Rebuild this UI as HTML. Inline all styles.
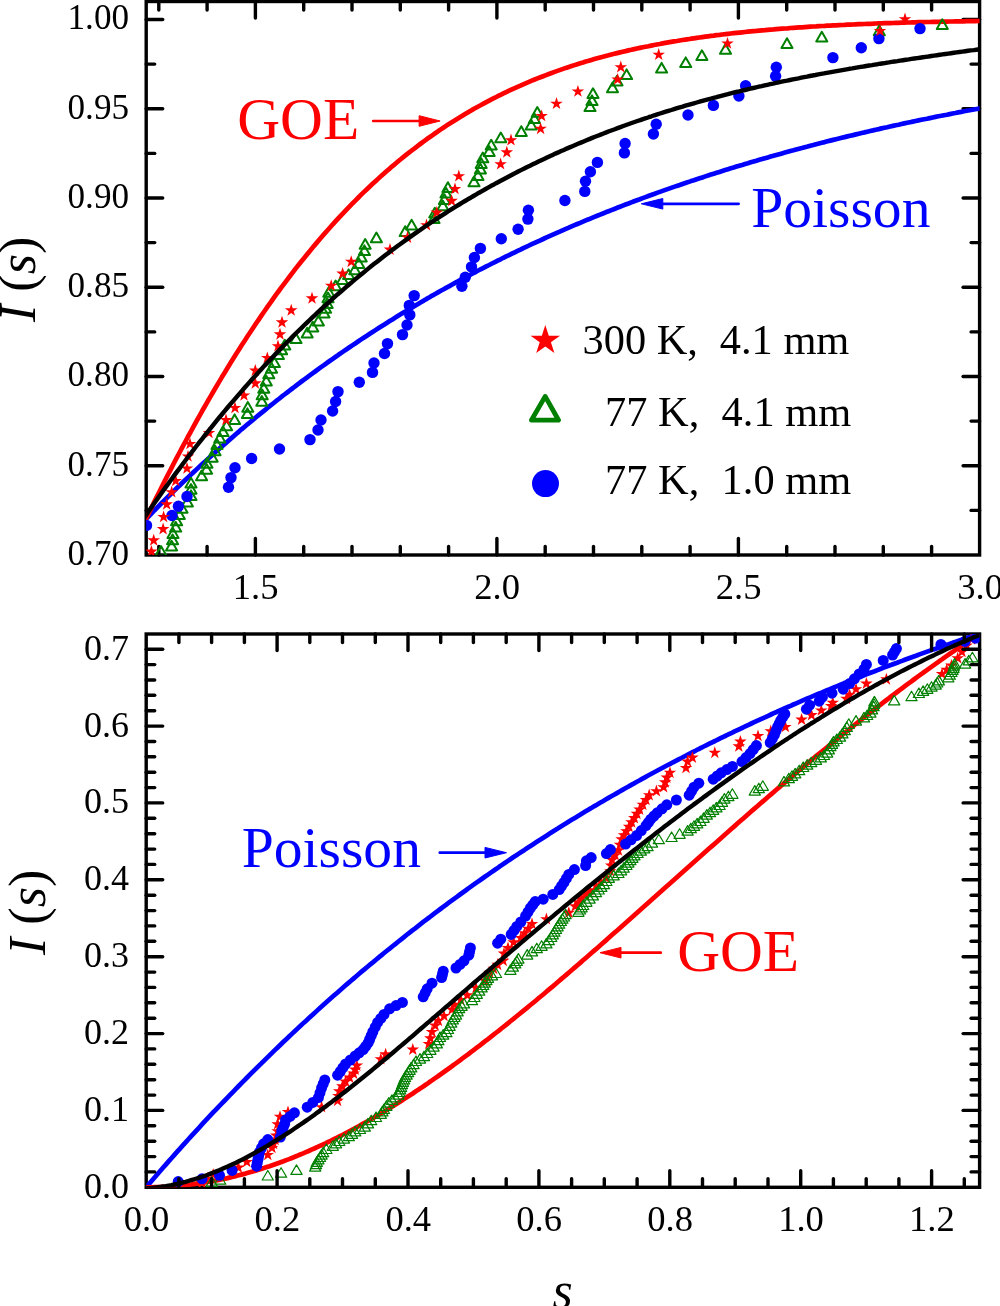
<!DOCTYPE html><html><head><meta charset="utf-8"><style>html,body{margin:0;padding:0;background:#fff;}svg{display:block;will-change:transform;}text{font-family:"Liberation Serif",serif;}</style></head><body>
<svg width="1000" height="1306" viewBox="0 0 1000 1306">
<defs><clipPath id="ct"><rect x="146.2" y="1.5" width="833.4" height="553.5"/></clipPath>
<polygon id="st" fill="#ff0000" points="0.00,-6.60 1.50,-2.06 6.28,-2.04 2.43,0.79 3.88,5.34 0.00,2.55 -3.88,5.34 -2.43,0.79 -6.28,-2.04 -1.50,-2.06"/>
<polygon id="trT" fill="none" stroke="#008000" stroke-width="2" stroke-linejoin="round" points="0,-5.0 5.55,4.7 -5.55,4.7"/>
<polygon id="trB" fill="none" stroke="#008000" stroke-width="1.2" stroke-linejoin="round" points="0,-4.8 5.6,4.7 -5.6,4.7"/>
<circle id="ciT" fill="#0000ff" r="5.7"/>
<circle id="ciB" fill="#0000ff" r="5.5"/>
<clipPath id="cb"><rect x="146.2" y="634.0" width="833.4" height="553.3"/></clipPath></defs>
<g stroke="#000" stroke-width="3.4" fill="none" stroke-linecap="round">
<line x1="255.4" y1="555.0" x2="255.4" y2="538.5"/>
<line x1="255.4" y1="1.5" x2="255.4" y2="18.0"/>
<line x1="496.9" y1="555.0" x2="496.9" y2="538.5"/>
<line x1="496.9" y1="1.5" x2="496.9" y2="18.0"/>
<line x1="738.4" y1="555.0" x2="738.4" y2="538.5"/>
<line x1="738.4" y1="1.5" x2="738.4" y2="18.0"/>
<line x1="158.8" y1="555.0" x2="158.8" y2="546.5"/>
<line x1="158.8" y1="1.5" x2="158.8" y2="10.0"/>
<line x1="207.1" y1="555.0" x2="207.1" y2="546.5"/>
<line x1="207.1" y1="1.5" x2="207.1" y2="10.0"/>
<line x1="303.7" y1="555.0" x2="303.7" y2="546.5"/>
<line x1="303.7" y1="1.5" x2="303.7" y2="10.0"/>
<line x1="352.0" y1="555.0" x2="352.0" y2="546.5"/>
<line x1="352.0" y1="1.5" x2="352.0" y2="10.0"/>
<line x1="400.3" y1="555.0" x2="400.3" y2="546.5"/>
<line x1="400.3" y1="1.5" x2="400.3" y2="10.0"/>
<line x1="448.6" y1="555.0" x2="448.6" y2="546.5"/>
<line x1="448.6" y1="1.5" x2="448.6" y2="10.0"/>
<line x1="545.2" y1="555.0" x2="545.2" y2="546.5"/>
<line x1="545.2" y1="1.5" x2="545.2" y2="10.0"/>
<line x1="593.5" y1="555.0" x2="593.5" y2="546.5"/>
<line x1="593.5" y1="1.5" x2="593.5" y2="10.0"/>
<line x1="641.8" y1="555.0" x2="641.8" y2="546.5"/>
<line x1="641.8" y1="1.5" x2="641.8" y2="10.0"/>
<line x1="690.1" y1="555.0" x2="690.1" y2="546.5"/>
<line x1="690.1" y1="1.5" x2="690.1" y2="10.0"/>
<line x1="786.7" y1="555.0" x2="786.7" y2="546.5"/>
<line x1="786.7" y1="1.5" x2="786.7" y2="10.0"/>
<line x1="835.0" y1="555.0" x2="835.0" y2="546.5"/>
<line x1="835.0" y1="1.5" x2="835.0" y2="10.0"/>
<line x1="883.3" y1="555.0" x2="883.3" y2="546.5"/>
<line x1="883.3" y1="1.5" x2="883.3" y2="10.0"/>
<line x1="931.6" y1="555.0" x2="931.6" y2="546.5"/>
<line x1="931.6" y1="1.5" x2="931.6" y2="10.0"/>
<line x1="146.2" y1="465.7" x2="162.7" y2="465.7"/>
<line x1="979.6" y1="465.7" x2="963.1" y2="465.7"/>
<line x1="146.2" y1="376.5" x2="162.7" y2="376.5"/>
<line x1="979.6" y1="376.5" x2="963.1" y2="376.5"/>
<line x1="146.2" y1="287.2" x2="162.7" y2="287.2"/>
<line x1="979.6" y1="287.2" x2="963.1" y2="287.2"/>
<line x1="146.2" y1="198.0" x2="162.7" y2="198.0"/>
<line x1="979.6" y1="198.0" x2="963.1" y2="198.0"/>
<line x1="146.2" y1="108.8" x2="162.7" y2="108.8"/>
<line x1="979.6" y1="108.8" x2="963.1" y2="108.8"/>
<line x1="146.2" y1="19.5" x2="162.7" y2="19.5"/>
<line x1="979.6" y1="19.5" x2="963.1" y2="19.5"/>
<line x1="146.2" y1="510.4" x2="154.7" y2="510.4"/>
<line x1="979.6" y1="510.4" x2="971.1" y2="510.4"/>
<line x1="146.2" y1="421.1" x2="154.7" y2="421.1"/>
<line x1="979.6" y1="421.1" x2="971.1" y2="421.1"/>
<line x1="146.2" y1="331.9" x2="154.7" y2="331.9"/>
<line x1="979.6" y1="331.9" x2="971.1" y2="331.9"/>
<line x1="146.2" y1="242.6" x2="154.7" y2="242.6"/>
<line x1="979.6" y1="242.6" x2="971.1" y2="242.6"/>
<line x1="146.2" y1="153.4" x2="154.7" y2="153.4"/>
<line x1="979.6" y1="153.4" x2="971.1" y2="153.4"/>
<line x1="146.2" y1="64.1" x2="154.7" y2="64.1"/>
<line x1="979.6" y1="64.1" x2="971.1" y2="64.1"/>
</g>
<rect x="146.2" y="1.5" width="833.4" height="553.5" fill="none" stroke="#000" stroke-width="3.4"/>
<rect x="146.2" y="634.0" width="833.4" height="553.3" fill="none" stroke="#000" stroke-width="3.4"/>
<g clip-path="url(#ct)" fill="none" stroke-width="4.7" stroke-linejoin="round" stroke-linecap="round">
<polyline stroke="#0000ff" points="139.5,525.8 142.3,522.9 145.2,519.9 148.0,517.0 150.9,514.0 153.7,511.1 156.5,508.3 159.4,505.4 162.2,502.5 165.1,499.7 167.9,496.9 170.8,494.1 173.6,491.3 176.4,488.5 179.3,485.8 182.1,483.0 185.0,480.3 187.8,477.6 190.7,474.9 193.5,472.2 196.3,469.6 199.2,466.9 202.0,464.3 204.9,461.7 207.7,459.1 210.6,456.5 213.4,454.0 216.2,451.4 219.1,448.9 221.9,446.4 224.8,443.9 227.6,441.4 230.5,438.9 233.3,436.4 236.1,434.0 239.0,431.6 241.8,429.1 244.7,426.7 247.5,424.3 250.4,422.0 253.2,419.6 256.0,417.3 258.9,414.9 261.7,412.6 264.6,410.3 267.4,408.0 270.3,405.7 273.1,403.5 275.9,401.2 278.8,399.0 281.6,396.7 284.5,394.5 287.3,392.3 290.2,390.1 293.0,388.0 295.8,385.8 298.7,383.6 301.5,381.5 304.4,379.4 307.2,377.3 310.1,375.2 312.9,373.1 315.8,371.0 318.6,368.9 321.4,366.9 324.3,364.9 327.1,362.8 330.0,360.8 332.8,358.8 335.7,356.8 338.5,354.8 341.3,352.9 344.2,350.9 347.0,349.0 349.9,347.0 352.7,345.1 355.6,343.2 358.4,341.3 361.2,339.4 364.1,337.5 366.9,335.7 369.8,333.8 372.6,332.0 375.5,330.1 378.3,328.3 381.1,326.5 384.0,324.7 386.8,322.9 389.7,321.1 392.5,319.4 395.4,317.6 398.2,315.8 401.0,314.1 403.9,312.4 406.7,310.7 409.6,308.9 412.4,307.2 415.3,305.6 418.1,303.9 420.9,302.2 423.8,300.6 426.6,298.9 429.5,297.3 432.3,295.6 435.2,294.0 438.0,292.4 440.8,290.8 443.7,289.2 446.5,287.6 449.4,286.1 452.2,284.5 455.1,282.9 457.9,281.4 460.7,279.8 463.6,278.3 466.4,276.8 469.3,275.3 472.1,273.8 475.0,272.3 477.8,270.8 480.6,269.3 483.5,267.9 486.3,266.4 489.2,265.0 492.0,263.5 494.9,262.1 497.7,260.7 500.6,259.3 503.4,257.8 506.2,256.4 509.1,255.1 511.9,253.7 514.8,252.3 517.6,250.9 520.5,249.6 523.3,248.2 526.1,246.9 529.0,245.5 531.8,244.2 534.7,242.9 537.5,241.6 540.4,240.3 543.2,239.0 546.0,237.7 548.9,236.4 551.7,235.2 554.6,233.9 557.4,232.6 560.3,231.4 563.1,230.1 565.9,228.9 568.8,227.7 571.6,226.4 574.5,225.2 577.3,224.0 580.2,222.8 583.0,221.6 585.8,220.4 588.7,219.3 591.5,218.1 594.4,216.9 597.2,215.8 600.1,214.6 602.9,213.5 605.7,212.3 608.6,211.2 611.4,210.1 614.3,209.0 617.1,207.8 620.0,206.7 622.8,205.6 625.6,204.5 628.5,203.5 631.3,202.4 634.2,201.3 637.0,200.2 639.9,199.2 642.7,198.1 645.5,197.1 648.4,196.0 651.2,195.0 654.1,194.0 656.9,192.9 659.8,191.9 662.6,190.9 665.4,189.9 668.3,188.9 671.1,187.9 674.0,186.9 676.8,185.9 679.7,185.0 682.5,184.0 685.4,183.0 688.2,182.1 691.0,181.1 693.9,180.2 696.7,179.2 699.6,178.3 702.4,177.4 705.3,176.4 708.1,175.5 710.9,174.6 713.8,173.7 716.6,172.8 719.5,171.9 722.3,171.0 725.2,170.1 728.0,169.2 730.8,168.3 733.7,167.5 736.5,166.6 739.4,165.7 742.2,164.9 745.1,164.0 747.9,163.2 750.7,162.3 753.6,161.5 756.4,160.7 759.3,159.8 762.1,159.0 765.0,158.2 767.8,157.4 770.6,156.6 773.5,155.8 776.3,155.0 779.2,154.2 782.0,153.4 784.9,152.6 787.7,151.8 790.5,151.0 793.4,150.3 796.2,149.5 799.1,148.7 801.9,148.0 804.8,147.2 807.6,146.5 810.4,145.7 813.3,145.0 816.1,144.2 819.0,143.5 821.8,142.8 824.7,142.1 827.5,141.3 830.3,140.6 833.2,139.9 836.0,139.2 838.9,138.5 841.7,137.8 844.6,137.1 847.4,136.4 850.2,135.7 853.1,135.1 855.9,134.4 858.8,133.7 861.6,133.0 864.5,132.4 867.3,131.7 870.2,131.0 873.0,130.4 875.8,129.7 878.7,129.1 881.5,128.4 884.4,127.8 887.2,127.2 890.1,126.5 892.9,125.9 895.7,125.3 898.6,124.7 901.4,124.0 904.3,123.4 907.1,122.8 910.0,122.2 912.8,121.6 915.6,121.0 918.5,120.4 921.3,119.8 924.2,119.2 927.0,118.7 929.9,118.1 932.7,117.5 935.5,116.9 938.4,116.3 941.2,115.8 944.1,115.2 946.9,114.7 949.8,114.1 952.6,113.5 955.4,113.0 958.3,112.4 961.1,111.9 964.0,111.3 966.8,110.8 969.7,110.3 972.5,109.7 975.3,109.2 978.2,108.7 981.0,108.2 983.9,107.6 986.7,107.1 989.6,106.6"/>
<polyline stroke="#ff0000" points="139.5,532.5 142.3,526.5 145.2,520.6 148.0,514.8 150.9,508.9 153.7,503.1 156.5,497.4 159.4,491.7 162.2,486.0 165.1,480.4 167.9,474.8 170.8,469.3 173.6,463.8 176.4,458.4 179.3,453.0 182.1,447.6 185.0,442.3 187.8,437.0 190.7,431.8 193.5,426.6 196.3,421.5 199.2,416.4 202.0,411.3 204.9,406.3 207.7,401.3 210.6,396.4 213.4,391.5 216.2,386.7 219.1,381.9 221.9,377.1 224.8,372.4 227.6,367.8 230.5,363.1 233.3,358.6 236.1,354.0 239.0,349.5 241.8,345.1 244.7,340.7 247.5,336.3 250.4,332.0 253.2,327.7 256.0,323.5 258.9,319.3 261.7,315.1 264.6,311.0 267.4,306.9 270.3,302.9 273.1,298.9 275.9,294.9 278.8,291.0 281.6,287.2 284.5,283.3 287.3,279.6 290.2,275.8 293.0,272.1 295.8,268.4 298.7,264.8 301.5,261.2 304.4,257.7 307.2,254.2 310.1,250.7 312.9,247.3 315.8,243.9 318.6,240.5 321.4,237.2 324.3,233.9 327.1,230.7 330.0,227.5 332.8,224.3 335.7,221.2 338.5,218.1 341.3,215.1 344.2,212.1 347.0,209.1 349.9,206.1 352.7,203.2 355.6,200.4 358.4,197.5 361.2,194.7 364.1,191.9 366.9,189.2 369.8,186.5 372.6,183.8 375.5,181.2 378.3,178.6 381.1,176.1 384.0,173.5 386.8,171.0 389.7,168.6 392.5,166.1 395.4,163.7 398.2,161.3 401.0,159.0 403.9,156.7 406.7,154.4 409.6,152.2 412.4,150.0 415.3,147.8 418.1,145.6 420.9,143.5 423.8,141.4 426.6,139.3 429.5,137.3 432.3,135.3 435.2,133.3 438.0,131.3 440.8,129.4 443.7,127.5 446.5,125.6 449.4,123.8 452.2,122.0 455.1,120.2 457.9,118.4 460.7,116.7 463.6,114.9 466.4,113.2 469.3,111.6 472.1,109.9 475.0,108.3 477.8,106.7 480.6,105.2 483.5,103.6 486.3,102.1 489.2,100.6 492.0,99.1 494.9,97.7 497.7,96.2 500.6,94.8 503.4,93.4 506.2,92.1 509.1,90.7 511.9,89.4 514.8,88.1 517.6,86.8 520.5,85.6 523.3,84.3 526.1,83.1 529.0,81.9 531.8,80.7 534.7,79.5 537.5,78.4 540.4,77.3 543.2,76.2 546.0,75.1 548.9,74.0 551.7,73.0 554.6,71.9 557.4,70.9 560.3,69.9 563.1,68.9 565.9,67.9 568.8,67.0 571.6,66.1 574.5,65.1 577.3,64.2 580.2,63.3 583.0,62.5 585.8,61.6 588.7,60.8 591.5,59.9 594.4,59.1 597.2,58.3 600.1,57.5 602.9,56.8 605.7,56.0 608.6,55.3 611.4,54.5 614.3,53.8 617.1,53.1 620.0,52.4 622.8,51.7 625.6,51.1 628.5,50.4 631.3,49.8 634.2,49.1 637.0,48.5 639.9,47.9 642.7,47.3 645.5,46.7 648.4,46.2 651.2,45.6 654.1,45.0 656.9,44.5 659.8,44.0 662.6,43.4 665.4,42.9 668.3,42.4 671.1,41.9 674.0,41.4 676.8,41.0 679.7,40.5 682.5,40.0 685.4,39.6 688.2,39.2 691.0,38.7 693.9,38.3 696.7,37.9 699.6,37.5 702.4,37.1 705.3,36.7 708.1,36.3 710.9,35.9 713.8,35.6 716.6,35.2 719.5,34.9 722.3,34.5 725.2,34.2 728.0,33.8 730.8,33.5 733.7,33.2 736.5,32.9 739.4,32.6 742.2,32.3 745.1,32.0 747.9,31.7 750.7,31.4 753.6,31.1 756.4,30.9 759.3,30.6 762.1,30.3 765.0,30.1 767.8,29.8 770.6,29.6 773.5,29.4 776.3,29.1 779.2,28.9 782.0,28.7 784.9,28.5 787.7,28.3 790.5,28.0 793.4,27.8 796.2,27.6 799.1,27.4 801.9,27.3 804.8,27.1 807.6,26.9 810.4,26.7 813.3,26.5 816.1,26.4 819.0,26.2 821.8,26.0 824.7,25.9 827.5,25.7 830.3,25.6 833.2,25.4 836.0,25.3 838.9,25.1 841.7,25.0 844.6,24.9 847.4,24.7 850.2,24.6 853.1,24.5 855.9,24.3 858.8,24.2 861.6,24.1 864.5,24.0 867.3,23.9 870.2,23.8 873.0,23.7 875.8,23.5 878.7,23.4 881.5,23.3 884.4,23.2 887.2,23.1 890.1,23.1 892.9,23.0 895.7,22.9 898.6,22.8 901.4,22.7 904.3,22.6 907.1,22.5 910.0,22.5 912.8,22.4 915.6,22.3 918.5,22.2 921.3,22.2 924.2,22.1 927.0,22.0 929.9,22.0 932.7,21.9 935.5,21.8 938.4,21.8 941.2,21.7 944.1,21.6 946.9,21.6 949.8,21.5 952.6,21.5 955.4,21.4 958.3,21.4 961.1,21.3 964.0,21.3 966.8,21.2 969.7,21.2 972.5,21.1 975.3,21.1 978.2,21.0 981.0,21.0 983.9,21.0 986.7,20.9 989.6,20.9"/>
</g>
<g id="markers-top" clip-path="url(#ct)"><use href="#trT" x="161.0" y="551.0"/><use href="#trT" x="171.6" y="545.8"/><use href="#trT" x="172.6" y="539.5"/><use href="#trT" x="173.0" y="533.2"/><use href="#trT" x="175.7" y="526.9"/><use href="#trT" x="176.6" y="520.6"/><use href="#trT" x="179.3" y="514.3"/><use href="#trT" x="182.0" y="508.0"/><use href="#trT" x="187.4" y="501.7"/><use href="#trT" x="191.0" y="495.4"/><use href="#trT" x="191.0" y="489.0"/><use href="#trT" x="191.0" y="482.8"/><use href="#trT" x="201.6" y="475.5"/><use href="#trT" x="206.6" y="469.0"/><use href="#trT" x="207.0" y="463.0"/><use href="#trT" x="212.2" y="457.0"/><use href="#trT" x="215.0" y="450.6"/><use href="#trT" x="217.0" y="444.2"/><use href="#trT" x="219.8" y="437.8"/><use href="#trT" x="223.0" y="431.4"/><use href="#trT" x="226.6" y="425.5"/><use href="#trT" x="234.6" y="419.4"/><use href="#trT" x="247.4" y="413.4"/><use href="#trT" x="247.8" y="407.0"/><use href="#trT" x="261.8" y="401.0"/><use href="#trT" x="262.2" y="394.6"/><use href="#trT" x="263.8" y="388.0"/><use href="#trT" x="266.3" y="380.8"/><use href="#trT" x="268.8" y="373.6"/><use href="#trT" x="271.6" y="368.0"/><use href="#trT" x="274.4" y="362.4"/><use href="#trT" x="278.4" y="354.4"/><use href="#trT" x="281.6" y="349.6"/><use href="#trT" x="284.8" y="344.8"/><use href="#trT" x="296.0" y="338.4"/><use href="#trT" x="307.2" y="332.8"/><use href="#trT" x="312.8" y="326.8"/><use href="#trT" x="318.4" y="320.8"/><use href="#trT" x="324.0" y="312.8"/><use href="#trT" x="325.6" y="308.0"/><use href="#trT" x="327.2" y="303.2"/><use href="#trT" x="328.0" y="297.6"/><use href="#trT" x="328.8" y="292.0"/><use href="#trT" x="335.6" y="285.6"/><use href="#trT" x="342.4" y="279.2"/><use href="#trT" x="348.6" y="274.4"/><use href="#trT" x="354.8" y="269.6"/><use href="#trT" x="358.8" y="263.2"/><use href="#trT" x="361.2" y="256.8"/><use href="#trT" x="364.4" y="250.4"/><use href="#trT" x="365.2" y="244.0"/><use href="#trT" x="376.4" y="237.6"/><use href="#trT" x="405.2" y="231.2"/><use href="#trT" x="411.6" y="224.8"/><use href="#trT" x="434.0" y="218.4"/><use href="#trT" x="434.8" y="212.8"/><use href="#trT" x="442.8" y="205.6"/><use href="#trT" x="444.4" y="199.2"/><use href="#trT" x="446.0" y="192.8"/><use href="#trT" x="447.9" y="187.2"/><use href="#trT" x="474.0" y="181.6"/><use href="#trT" x="478.0" y="175.2"/><use href="#trT" x="480.4" y="168.8"/><use href="#trT" x="481.2" y="163.2"/><use href="#trT" x="482.8" y="157.6"/><use href="#trT" x="489.2" y="151.2"/><use href="#trT" x="491.2" y="144.8"/><use href="#trT" x="500.8" y="137.5"/><use href="#trT" x="521.3" y="131.2"/><use href="#trT" x="531.2" y="124.8"/><use href="#trT" x="534.4" y="118.4"/><use href="#trT" x="537.3" y="112.0"/><use href="#trT" x="590.0" y="106.4"/><use href="#trT" x="592.0" y="100.4"/><use href="#trT" x="593.0" y="93.3"/><use href="#trT" x="612.5" y="87.5"/><use href="#trT" x="617.0" y="80.7"/><use href="#trT" x="626.6" y="74.4"/><use href="#trT" x="661.6" y="67.9"/><use href="#trT" x="685.7" y="62.4"/><use href="#trT" x="701.9" y="55.3"/><use href="#trT" x="725.5" y="49.1"/><use href="#trT" x="787.0" y="43.2"/><use href="#trT" x="821.8" y="36.8"/><use href="#trT" x="879.3" y="30.6"/><use href="#trT" x="942.3" y="24.3"/><use href="#ciT" x="146.5" y="525.4"/><use href="#ciT" x="172.0" y="515.5"/><use href="#ciT" x="178.4" y="506.2"/><use href="#ciT" x="187.0" y="496.5"/><use href="#ciT" x="228.5" y="487.3"/><use href="#ciT" x="231.0" y="477.6"/><use href="#ciT" x="235.0" y="467.8"/><use href="#ciT" x="251.6" y="458.5"/><use href="#ciT" x="279.5" y="449.0"/><use href="#ciT" x="310.0" y="439.6"/><use href="#ciT" x="318.0" y="430.0"/><use href="#ciT" x="321.0" y="420.0"/><use href="#ciT" x="332.6" y="411.0"/><use href="#ciT" x="335.6" y="401.5"/><use href="#ciT" x="338.0" y="391.6"/><use href="#ciT" x="359.3" y="382.3"/><use href="#ciT" x="372.5" y="372.4"/><use href="#ciT" x="374.0" y="363.0"/><use href="#ciT" x="384.5" y="353.5"/><use href="#ciT" x="387.5" y="343.6"/><use href="#ciT" x="402.5" y="334.6"/><use href="#ciT" x="407.0" y="325.0"/><use href="#ciT" x="409.8" y="314.9"/><use href="#ciT" x="409.3" y="305.4"/><use href="#ciT" x="414.2" y="295.6"/><use href="#ciT" x="461.9" y="286.3"/><use href="#ciT" x="465.3" y="277.2"/><use href="#ciT" x="471.5" y="266.9"/><use href="#ciT" x="474.4" y="257.5"/><use href="#ciT" x="480.4" y="248.4"/><use href="#ciT" x="501.3" y="238.8"/><use href="#ciT" x="518.1" y="229.2"/><use href="#ciT" x="527.9" y="219.1"/><use href="#ciT" x="528.4" y="210.2"/><use href="#ciT" x="564.9" y="200.5"/><use href="#ciT" x="584.8" y="191.4"/><use href="#ciT" x="585.5" y="181.3"/><use href="#ciT" x="590.4" y="171.8"/><use href="#ciT" x="597.4" y="162.4"/><use href="#ciT" x="624.4" y="152.9"/><use href="#ciT" x="625.1" y="143.5"/><use href="#ciT" x="653.4" y="134.0"/><use href="#ciT" x="656.2" y="124.2"/><use href="#ciT" x="688.0" y="115.0"/><use href="#ciT" x="713.4" y="105.4"/><use href="#ciT" x="738.9" y="96.0"/><use href="#ciT" x="745.6" y="85.7"/><use href="#ciT" x="775.6" y="76.3"/><use href="#ciT" x="776.3" y="67.2"/><use href="#ciT" x="832.9" y="57.6"/><use href="#ciT" x="861.3" y="47.7"/><use href="#ciT" x="878.9" y="38.6"/><use href="#ciT" x="920.0" y="28.6"/><use href="#st" x="151.4" y="551.6"/><use href="#st" x="153.7" y="540.4"/><use href="#st" x="163.1" y="529.1"/><use href="#st" x="163.6" y="517.0"/><use href="#st" x="166.7" y="504.4"/><use href="#st" x="171.7" y="492.2"/><use href="#st" x="175.7" y="481.0"/><use href="#st" x="187.0" y="468.5"/><use href="#st" x="188.0" y="456.5"/><use href="#st" x="190.0" y="444.0"/><use href="#st" x="209.0" y="433.0"/><use href="#st" x="226.0" y="420.0"/><use href="#st" x="235.0" y="408.0"/><use href="#st" x="244.0" y="395.5"/><use href="#st" x="255.3" y="383.4"/><use href="#st" x="255.3" y="370.6"/><use href="#st" x="267.3" y="358.0"/><use href="#st" x="278.0" y="346.2"/><use href="#st" x="280.0" y="334.4"/><use href="#st" x="282.0" y="322.4"/><use href="#st" x="291.2" y="310.4"/><use href="#st" x="312.0" y="298.4"/><use href="#st" x="331.2" y="285.8"/><use href="#st" x="342.6" y="273.6"/><use href="#st" x="351.2" y="261.8"/><use href="#st" x="390.0" y="249.6"/><use href="#st" x="407.5" y="237.6"/><use href="#st" x="426.5" y="225.2"/><use href="#st" x="436.8" y="212.6"/><use href="#st" x="451.6" y="200.9"/><use href="#st" x="455.0" y="189.0"/><use href="#st" x="458.8" y="176.2"/><use href="#st" x="500.6" y="164.2"/><use href="#st" x="506.8" y="152.4"/><use href="#st" x="511.0" y="140.2"/><use href="#st" x="540.6" y="128.8"/><use href="#st" x="541.6" y="116.0"/><use href="#st" x="556.5" y="103.7"/><use href="#st" x="577.9" y="91.5"/><use href="#st" x="617.6" y="79.5"/><use href="#st" x="620.8" y="67.2"/><use href="#st" x="658.7" y="54.7"/><use href="#st" x="727.5" y="43.5"/><use href="#st" x="880.0" y="31.0"/><use href="#st" x="905.0" y="19.2"/></g>
<g clip-path="url(#ct)" fill="none" stroke-width="4.4" stroke-linejoin="round" stroke-linecap="round">
<polyline stroke="#000000" points="140.0,524.0 142.8,519.9 145.7,515.7 148.5,511.6 151.3,507.6 154.1,503.5 157.0,499.5 159.8,495.5 162.6,491.5 165.4,487.6 168.3,483.7 171.1,479.8 173.9,475.9 176.7,472.1 179.6,468.3 182.4,464.5 185.2,460.7 188.0,457.0 190.9,453.3 193.7,449.6 196.5,446.0 199.3,442.4 202.2,438.8 205.0,435.2 207.8,431.6 210.7,428.1 213.5,424.6 216.3,421.2 219.1,417.7 222.0,414.3 224.8,410.9 227.6,407.5 230.4,404.2 233.3,400.9 236.1,397.6 238.9,394.3 241.7,391.1 244.6,387.8 247.4,384.6 250.2,381.5 253.0,378.3 255.9,375.2 258.7,372.1 261.5,369.0 264.3,365.9 267.2,362.9 270.0,359.9 272.8,356.9 275.7,353.9 278.5,351.0 281.3,348.1 284.1,345.2 287.0,342.3 289.8,339.5 292.6,336.6 295.4,333.8 298.3,331.0 301.1,328.3 303.9,325.5 306.7,322.8 309.6,320.1 312.4,317.4 315.2,314.8 318.0,312.1 320.9,309.5 323.7,306.9 326.5,304.3 329.3,301.8 332.2,299.2 335.0,296.7 337.8,294.2 340.7,291.8 343.5,289.3 346.3,286.9 349.1,284.5 352.0,282.1 354.8,279.7 357.6,277.3 360.4,275.0 363.3,272.7 366.1,270.4 368.9,268.1 371.7,265.8 374.6,263.6 377.4,261.4 380.2,259.2 383.0,257.0 385.9,254.8 388.7,252.7 391.5,250.5 394.3,248.4 397.2,246.3 400.0,244.3 402.8,242.2 405.7,240.1 408.5,238.1 411.3,236.1 414.1,234.1 417.0,232.1 419.8,230.2 422.6,228.2 425.4,226.3 428.3,224.4 431.1,222.5 433.9,220.6 436.7,218.8 439.6,216.9 442.4,215.1 445.2,213.3 448.0,211.5 450.9,209.7 453.7,207.9 456.5,206.2 459.3,204.5 462.2,202.7 465.0,201.0 467.8,199.3 470.7,197.7 473.5,196.0 476.3,194.4 479.1,192.7 482.0,191.1 484.8,189.5 487.6,187.9 490.4,186.3 493.3,184.8 496.1,183.2 498.9,181.7 501.7,180.2 504.6,178.7 507.4,177.2 510.2,175.7 513.0,174.2 515.9,172.8 518.7,171.3 521.5,169.9 524.3,168.5 527.2,167.0 530.0,165.7 532.8,164.3 535.7,162.9 538.5,161.5 541.3,160.2 544.1,158.9 547.0,157.5 549.8,156.2 552.6,154.9 555.4,153.6 558.3,152.4 561.1,151.1 563.9,149.9 566.7,148.6 569.6,147.4 572.4,146.2 575.2,145.0 578.0,143.8 580.9,142.6 583.7,141.4 586.5,140.2 589.3,139.1 592.2,137.9 595.0,136.8 597.8,135.7 600.7,134.6 603.5,133.5 606.3,132.4 609.1,131.3 612.0,130.2 614.8,129.2 617.6,128.1 620.4,127.1 623.3,126.0 626.1,125.0 628.9,124.0 631.7,123.0 634.6,122.0 637.4,121.0 640.2,120.1 643.0,119.1 645.9,118.2 648.7,117.2 651.5,116.3 654.3,115.3 657.2,114.4 660.0,113.5 662.8,112.6 665.7,111.7 668.5,110.8 671.3,110.0 674.1,109.1 677.0,108.2 679.8,107.4 682.6,106.6 685.4,105.7 688.3,104.9 691.1,104.1 693.9,103.3 696.7,102.5 699.6,101.7 702.4,100.9 705.2,100.1 708.0,99.3 710.9,98.6 713.7,97.8 716.5,97.1 719.3,96.3 722.2,95.6 725.0,94.9 727.8,94.2 730.7,93.4 733.5,92.7 736.3,92.0 739.1,91.4 742.0,90.7 744.8,90.0 747.6,89.3 750.4,88.7 753.3,88.0 756.1,87.3 758.9,86.7 761.7,86.1 764.6,85.4 767.4,84.8 770.2,84.2 773.0,83.6 775.9,82.9 778.7,82.3 781.5,81.7 784.3,81.1 787.2,80.6 790.0,80.0 792.8,79.4 795.7,78.8 798.5,78.3 801.3,77.7 804.1,77.1 807.0,76.6 809.8,76.0 812.6,75.5 815.4,75.0 818.3,74.4 821.1,73.9 823.9,73.4 826.7,72.8 829.6,72.3 832.4,71.8 835.2,71.3 838.0,70.8 840.9,70.3 843.7,69.8 846.5,69.3 849.3,68.8 852.2,68.4 855.0,67.9 857.8,67.4 860.7,66.9 863.5,66.5 866.3,66.0 869.1,65.5 872.0,65.1 874.8,64.6 877.6,64.2 880.4,63.7 883.3,63.3 886.1,62.8 888.9,62.4 891.7,61.9 894.6,61.5 897.4,61.1 900.2,60.6 903.0,60.2 905.9,59.8 908.7,59.4 911.5,58.9 914.3,58.5 917.2,58.1 920.0,57.7 922.8,57.3 925.7,56.9 928.5,56.5 931.3,56.0 934.1,55.6 937.0,55.2 939.8,54.8 942.6,54.4 945.4,54.0 948.3,53.6 951.1,53.2 953.9,52.8 956.7,52.4 959.6,52.0 962.4,51.6 965.2,51.2 968.0,50.8 970.9,50.4 973.7,50.1 976.5,49.7 979.3,49.3 982.2,48.9 985.0,48.5"/>
</g>
<g clip-path="url(#cb)" fill="none" stroke-width="4.7" stroke-linejoin="round" stroke-linecap="round">
<polyline stroke="#0000ff" points="146.2,1187.3 149.0,1184.0 151.8,1180.7 154.6,1177.5 157.4,1174.2 160.2,1171.0 163.0,1167.8 165.8,1164.6 168.6,1161.4 171.4,1158.2 174.2,1155.1 177.0,1151.9 179.8,1148.8 182.6,1145.7 185.4,1142.6 188.2,1139.5 191.0,1136.4 193.8,1133.3 196.6,1130.3 199.4,1127.3 202.2,1124.2 205.0,1121.2 207.8,1118.2 210.6,1115.2 213.4,1112.2 216.2,1109.3 219.0,1106.3 221.9,1103.4 224.7,1100.5 227.5,1097.6 230.3,1094.7 233.1,1091.8 235.9,1088.9 238.7,1086.0 241.5,1083.2 244.3,1080.3 247.1,1077.5 249.9,1074.7 252.7,1071.9 255.5,1069.1 258.3,1066.3 261.1,1063.6 263.9,1060.8 266.7,1058.1 269.5,1055.3 272.3,1052.6 275.1,1049.9 277.9,1047.2 280.7,1044.5 283.5,1041.8 286.3,1039.2 289.1,1036.5 291.9,1033.9 294.7,1031.3 297.5,1028.6 300.3,1026.0 303.1,1023.4 305.9,1020.9 308.7,1018.3 311.5,1015.7 314.3,1013.2 317.1,1010.6 319.9,1008.1 322.7,1005.6 325.5,1003.1 328.3,1000.6 331.1,998.1 333.9,995.6 336.7,993.2 339.5,990.7 342.3,988.3 345.1,985.8 347.9,983.4 350.7,981.0 353.5,978.6 356.3,976.2 359.1,973.8 361.9,971.4 364.7,969.1 367.5,966.7 370.3,964.4 373.2,962.1 376.0,959.7 378.8,957.4 381.6,955.1 384.4,952.8 387.2,950.5 390.0,948.3 392.8,946.0 395.6,943.8 398.4,941.5 401.2,939.3 404.0,937.1 406.8,934.8 409.6,932.6 412.4,930.4 415.2,928.3 418.0,926.1 420.8,923.9 423.6,921.7 426.4,919.6 429.2,917.5 432.0,915.3 434.8,913.2 437.6,911.1 440.4,909.0 443.2,906.9 446.0,904.8 448.8,902.7 451.6,900.7 454.4,898.6 457.2,896.6 460.0,894.5 462.8,892.5 465.6,890.5 468.4,888.4 471.2,886.4 474.0,884.4 476.8,882.4 479.6,880.5 482.4,878.5 485.2,876.5 488.0,874.6 490.8,872.6 493.6,870.7 496.4,868.8 499.2,866.8 502.0,864.9 504.8,863.0 507.6,861.1 510.4,859.2 513.2,857.3 516.0,855.5 518.8,853.6 521.7,851.7 524.5,849.9 527.3,848.0 530.1,846.2 532.9,844.4 535.7,842.6 538.5,840.8 541.3,839.0 544.1,837.2 546.9,835.4 549.7,833.6 552.5,831.8 555.3,830.0 558.1,828.3 560.9,826.5 563.7,824.8 566.5,823.1 569.3,821.3 572.1,819.6 574.9,817.9 577.7,816.2 580.5,814.5 583.3,812.8 586.1,811.1 588.9,809.4 591.7,807.8 594.5,806.1 597.3,804.5 600.1,802.8 602.9,801.2 605.7,799.5 608.5,797.9 611.3,796.3 614.1,794.7 616.9,793.1 619.7,791.5 622.5,789.9 625.3,788.3 628.1,786.7 630.9,785.1 633.7,783.6 636.5,782.0 639.3,780.5 642.1,778.9 644.9,777.4 647.7,775.8 650.5,774.3 653.3,772.8 656.1,771.3 658.9,769.8 661.7,768.3 664.5,766.8 667.3,765.3 670.2,763.8 673.0,762.3 675.8,760.9 678.6,759.4 681.4,758.0 684.2,756.5 687.0,755.1 689.8,753.6 692.6,752.2 695.4,750.8 698.2,749.3 701.0,747.9 703.8,746.5 706.6,745.1 709.4,743.7 712.2,742.3 715.0,741.0 717.8,739.6 720.6,738.2 723.4,736.8 726.2,735.5 729.0,734.1 731.8,732.8 734.6,731.4 737.4,730.1 740.2,728.8 743.0,727.5 745.8,726.1 748.6,724.8 751.4,723.5 754.2,722.2 757.0,720.9 759.8,719.6 762.6,718.3 765.4,717.1 768.2,715.8 771.0,714.5 773.8,713.2 776.6,712.0 779.4,710.7 782.2,709.5 785.0,708.2 787.8,707.0 790.6,705.8 793.4,704.5 796.2,703.3 799.0,702.1 801.8,700.9 804.6,699.7 807.4,698.5 810.2,697.3 813.0,696.1 815.8,694.9 818.6,693.7 821.5,692.6 824.3,691.4 827.1,690.2 829.9,689.1 832.7,687.9 835.5,686.8 838.3,685.6 841.1,684.5 843.9,683.3 846.7,682.2 849.5,681.1 852.3,680.0 855.1,678.8 857.9,677.7 860.7,676.6 863.5,675.5 866.3,674.4 869.1,673.3 871.9,672.2 874.7,671.2 877.5,670.1 880.3,669.0 883.1,667.9 885.9,666.9 888.7,665.8 891.5,664.8 894.3,663.7 897.1,662.7 899.9,661.6 902.7,660.6 905.5,659.5 908.3,658.5 911.1,657.5 913.9,656.5 916.7,655.5 919.5,654.4 922.3,653.4 925.1,652.4 927.9,651.4 930.7,650.4 933.5,649.4 936.3,648.5 939.1,647.5 941.9,646.5 944.7,645.5 947.5,644.6 950.3,643.6 953.1,642.6 955.9,641.7 958.7,640.7 961.5,639.8 964.3,638.8 967.1,637.9 970.0,637.0 972.8,636.0 975.6,635.1 978.4,634.2 981.2,633.2 984.0,632.3"/>
<polyline stroke="#ff0000" points="146.2,1187.3 149.0,1187.3 151.8,1187.3 154.6,1187.2 157.4,1187.1 160.2,1187.0 163.0,1186.9 165.8,1186.8 168.6,1186.6 171.4,1186.4 174.2,1186.2 177.0,1186.0 179.8,1185.7 182.6,1185.4 185.4,1185.1 188.2,1184.8 191.0,1184.5 193.8,1184.1 196.6,1183.7 199.4,1183.3 202.2,1182.9 205.0,1182.4 207.8,1182.0 210.6,1181.5 213.4,1181.0 216.2,1180.4 219.0,1179.9 221.9,1179.3 224.7,1178.7 227.5,1178.1 230.3,1177.4 233.1,1176.7 235.9,1176.1 238.7,1175.3 241.5,1174.6 244.3,1173.9 247.1,1173.1 249.9,1172.3 252.7,1171.5 255.5,1170.7 258.3,1169.8 261.1,1168.9 263.9,1168.0 266.7,1167.1 269.5,1166.2 272.3,1165.2 275.1,1164.2 277.9,1163.2 280.7,1162.2 283.5,1161.2 286.3,1160.1 289.1,1159.1 291.9,1158.0 294.7,1156.8 297.5,1155.7 300.3,1154.5 303.1,1153.4 305.9,1152.2 308.7,1151.0 311.5,1149.7 314.3,1148.5 317.1,1147.2 319.9,1145.9 322.7,1144.6 325.5,1143.3 328.3,1141.9 331.1,1140.6 333.9,1139.2 336.7,1137.8 339.5,1136.4 342.3,1135.0 345.1,1133.5 347.9,1132.0 350.7,1130.5 353.5,1129.0 356.3,1127.5 359.1,1126.0 361.9,1124.4 364.7,1122.8 367.5,1121.3 370.3,1119.7 373.2,1118.0 376.0,1116.4 378.8,1114.7 381.6,1113.1 384.4,1111.4 387.2,1109.7 390.0,1108.0 392.8,1106.2 395.6,1104.5 398.4,1102.7 401.2,1100.9 404.0,1099.1 406.8,1097.3 409.6,1095.5 412.4,1093.7 415.2,1091.8 418.0,1089.9 420.8,1088.1 423.6,1086.2 426.4,1084.3 429.2,1082.3 432.0,1080.4 434.8,1078.4 437.6,1076.5 440.4,1074.5 443.2,1072.5 446.0,1070.5 448.8,1068.5 451.6,1066.5 454.4,1064.4 457.2,1062.4 460.0,1060.3 462.8,1058.2 465.6,1056.2 468.4,1054.1 471.2,1051.9 474.0,1049.8 476.8,1047.7 479.6,1045.6 482.4,1043.4 485.2,1041.2 488.0,1039.1 490.8,1036.9 493.6,1034.7 496.4,1032.5 499.2,1030.3 502.0,1028.0 504.8,1025.8 507.6,1023.6 510.4,1021.3 513.2,1019.1 516.0,1016.8 518.8,1014.5 521.7,1012.2 524.5,1009.9 527.3,1007.6 530.1,1005.3 532.9,1003.0 535.7,1000.7 538.5,998.3 541.3,996.0 544.1,993.7 546.9,991.3 549.7,988.9 552.5,986.6 555.3,984.2 558.1,981.8 560.9,979.4 563.7,977.0 566.5,974.6 569.3,972.2 572.1,969.8 574.9,967.4 577.7,965.0 580.5,962.6 583.3,960.1 586.1,957.7 588.9,955.3 591.7,952.8 594.5,950.4 597.3,947.9 600.1,945.5 602.9,943.0 605.7,940.6 608.5,938.1 611.3,935.6 614.1,933.1 616.9,930.7 619.7,928.2 622.5,925.7 625.3,923.2 628.1,920.7 630.9,918.3 633.7,915.8 636.5,913.3 639.3,910.8 642.1,908.3 644.9,905.8 647.7,903.3 650.5,900.8 653.3,898.3 656.1,895.8 658.9,893.3 661.7,890.8 664.5,888.3 667.3,885.8 670.2,883.3 673.0,880.8 675.8,878.3 678.6,875.8 681.4,873.3 684.2,870.8 687.0,868.3 689.8,865.8 692.6,863.3 695.4,860.8 698.2,858.3 701.0,855.8 703.8,853.3 706.6,850.8 709.4,848.3 712.2,845.9 715.0,843.4 717.8,840.9 720.6,838.4 723.4,835.9 726.2,833.5 729.0,831.0 731.8,828.5 734.6,826.1 737.4,823.6 740.2,821.1 743.0,818.7 745.8,816.2 748.6,813.8 751.4,811.3 754.2,808.9 757.0,806.5 759.8,804.0 762.6,801.6 765.4,799.2 768.2,796.8 771.0,794.4 773.8,791.9 776.6,789.5 779.4,787.1 782.2,784.7 785.0,782.4 787.8,780.0 790.6,777.6 793.4,775.2 796.2,772.8 799.0,770.5 801.8,768.1 804.6,765.8 807.4,763.4 810.2,761.1 813.0,758.8 815.8,756.4 818.6,754.1 821.5,751.8 824.3,749.5 827.1,747.2 829.9,744.9 832.7,742.6 835.5,740.3 838.3,738.0 841.1,735.8 843.9,733.5 846.7,731.3 849.5,729.0 852.3,726.8 855.1,724.5 857.9,722.3 860.7,720.1 863.5,717.9 866.3,715.7 869.1,713.5 871.9,711.3 874.7,709.1 877.5,707.0 880.3,704.8 883.1,702.6 885.9,700.5 888.7,698.4 891.5,696.2 894.3,694.1 897.1,692.0 899.9,689.9 902.7,687.8 905.5,685.7 908.3,683.6 911.1,681.6 913.9,679.5 916.7,677.4 919.5,675.4 922.3,673.4 925.1,671.3 927.9,669.3 930.7,667.3 933.5,665.3 936.3,663.3 939.1,661.3 941.9,659.4 944.7,657.4 947.5,655.4 950.3,653.5 953.1,651.6 955.9,649.6 958.7,647.7 961.5,645.8 964.3,643.9 967.1,642.0 970.0,640.1 972.8,638.3 975.6,636.4 978.4,634.6 981.2,632.7 984.0,630.9"/>
</g>
<g id="markers-bot" clip-path="url(#cb)"><use href="#st" x="202.0" y="1183.0"/><use href="#st" x="207.6" y="1178.8"/><use href="#st" x="213.2" y="1174.6"/><use href="#st" x="238.4" y="1167.6"/><use href="#st" x="246.8" y="1162.0"/><use href="#st" x="267.8" y="1155.0"/><use href="#st" x="272.0" y="1148.0"/><use href="#st" x="273.5" y="1144.0"/><use href="#st" x="275.0" y="1140.0"/><use href="#st" x="276.3" y="1135.6"/><use href="#st" x="277.6" y="1131.2"/><use href="#st" x="277.6" y="1124.2"/><use href="#st" x="280.0" y="1116.8"/><use href="#st" x="288.0" y="1112.0"/><use href="#st" x="321.6" y="1107.2"/><use href="#st" x="337.6" y="1100.8"/><use href="#st" x="338.4" y="1096.0"/><use href="#st" x="339.2" y="1091.2"/><use href="#st" x="342.4" y="1086.4"/><use href="#st" x="345.6" y="1081.6"/><use href="#st" x="349.6" y="1077.6"/><use href="#st" x="353.6" y="1073.6"/><use href="#st" x="355.2" y="1069.6"/><use href="#st" x="356.8" y="1065.6"/><use href="#st" x="380.8" y="1059.2"/><use href="#st" x="385.6" y="1054.4"/><use href="#st" x="412.8" y="1049.6"/><use href="#st" x="428.8" y="1044.0"/><use href="#st" x="430.4" y="1038.4"/><use href="#st" x="432.0" y="1032.0"/><use href="#st" x="435.2" y="1025.6"/><use href="#st" x="438.4" y="1020.8"/><use href="#st" x="444.0" y="1016.0"/><use href="#st" x="452.0" y="1009.6"/><use href="#st" x="454.4" y="1004.8"/><use href="#st" x="460.8" y="1000.0"/><use href="#st" x="467.2" y="995.2"/><use href="#st" x="476.0" y="988.0"/><use href="#st" x="484.8" y="980.8"/><use href="#st" x="487.2" y="976.8"/><use href="#st" x="489.6" y="972.8"/><use href="#st" x="493.6" y="968.8"/><use href="#st" x="497.6" y="964.8"/><use href="#st" x="503.2" y="960.8"/><use href="#st" x="504.0" y="953.6"/><use href="#st" x="508.0" y="948.0"/><use href="#st" x="513.6" y="942.4"/><use href="#st" x="520.8" y="938.0"/><use href="#st" x="524.5" y="933.3"/><use href="#st" x="528.3" y="928.7"/><use href="#st" x="532.0" y="924.0"/><use href="#st" x="546.4" y="919.2"/><use href="#st" x="568.8" y="912.8"/><use href="#st" x="575.2" y="906.4"/><use href="#st" x="578.4" y="902.4"/><use href="#st" x="581.6" y="898.4"/><use href="#st" x="585.6" y="894.4"/><use href="#st" x="589.6" y="890.4"/><use href="#st" x="596.0" y="885.6"/><use href="#st" x="600.8" y="881.6"/><use href="#st" x="605.6" y="877.6"/><use href="#st" x="610.4" y="871.2"/><use href="#st" x="611.2" y="865.6"/><use href="#st" x="612.0" y="860.0"/><use href="#st" x="615.2" y="855.2"/><use href="#st" x="618.4" y="850.4"/><use href="#st" x="620.0" y="844.8"/><use href="#st" x="621.6" y="839.2"/><use href="#st" x="624.0" y="835.2"/><use href="#st" x="626.4" y="831.2"/><use href="#st" x="629.0" y="826.8"/><use href="#st" x="631.6" y="822.4"/><use href="#st" x="634.3" y="818.1"/><use href="#st" x="636.9" y="813.9"/><use href="#st" x="639.6" y="809.6"/><use href="#st" x="642.8" y="804.8"/><use href="#st" x="646.0" y="800.0"/><use href="#st" x="649.2" y="795.2"/><use href="#st" x="656.4" y="791.2"/><use href="#st" x="663.6" y="787.2"/><use href="#st" x="665.2" y="782.4"/><use href="#st" x="666.8" y="777.6"/><use href="#st" x="670.0" y="772.8"/><use href="#st" x="686.0" y="768.0"/><use href="#st" x="687.6" y="761.6"/><use href="#st" x="692.4" y="757.6"/><use href="#st" x="714.8" y="752.8"/><use href="#st" x="738.8" y="746.4"/><use href="#st" x="740.4" y="741.6"/><use href="#st" x="758.0" y="736.0"/><use href="#st" x="770.8" y="731.2"/><use href="#st" x="785.4" y="727.0"/><use href="#st" x="801.6" y="719.6"/><use href="#st" x="811.5" y="715.1"/><use href="#st" x="821.3" y="710.5"/><use href="#st" x="831.2" y="706.0"/><use href="#st" x="832.8" y="702.8"/><use href="#st" x="846.4" y="698.8"/><use href="#st" x="849.6" y="694.8"/><use href="#st" x="856.0" y="689.2"/><use href="#st" x="866.4" y="683.6"/><use href="#st" x="886.4" y="679.4"/><use href="#st" x="942.0" y="674.0"/><use href="#st" x="946.7" y="669.8"/><use href="#st" x="951.4" y="665.5"/><use href="#st" x="957.7" y="658.2"/><use href="#st" x="961.9" y="651.9"/><use href="#st" x="966.6" y="645.6"/><use href="#st" x="971.4" y="639.3"/><use href="#trB" x="211.8" y="1181.6"/><use href="#trB" x="220.2" y="1179.5"/><use href="#trB" x="267.8" y="1175.3"/><use href="#trB" x="281.1" y="1172.5"/><use href="#trB" x="296.5" y="1169.7"/><use href="#trB" x="315.2" y="1166.4"/><use href="#trB" x="316.0" y="1164.0"/><use href="#trB" x="316.8" y="1161.6"/><use href="#trB" x="318.4" y="1159.2"/><use href="#trB" x="320.0" y="1156.8"/><use href="#trB" x="321.6" y="1154.4"/><use href="#trB" x="323.2" y="1152.0"/><use href="#trB" x="326.4" y="1148.8"/><use href="#trB" x="332.8" y="1145.6"/><use href="#trB" x="336.0" y="1143.2"/><use href="#trB" x="339.2" y="1140.8"/><use href="#trB" x="344.0" y="1138.4"/><use href="#trB" x="348.8" y="1136.0"/><use href="#trB" x="352.0" y="1133.6"/><use href="#trB" x="355.2" y="1131.2"/><use href="#trB" x="360.0" y="1128.8"/><use href="#trB" x="364.8" y="1126.4"/><use href="#trB" x="368.0" y="1123.2"/><use href="#trB" x="371.2" y="1120.0"/><use href="#trB" x="376.0" y="1116.8"/><use href="#trB" x="380.8" y="1113.6"/><use href="#trB" x="382.4" y="1111.2"/><use href="#trB" x="384.0" y="1108.8"/><use href="#trB" x="386.4" y="1105.6"/><use href="#trB" x="388.8" y="1102.4"/><use href="#trB" x="392.0" y="1099.7"/><use href="#trB" x="395.2" y="1097.1"/><use href="#trB" x="398.4" y="1094.4"/><use href="#trB" x="399.3" y="1091.8"/><use href="#trB" x="400.2" y="1089.2"/><use href="#trB" x="401.1" y="1086.6"/><use href="#trB" x="402.0" y="1084.0"/><use href="#trB" x="403.0" y="1081.6"/><use href="#trB" x="404.0" y="1079.2"/><use href="#trB" x="405.0" y="1076.8"/><use href="#trB" x="406.6" y="1074.4"/><use href="#trB" x="408.1" y="1072.0"/><use href="#trB" x="409.6" y="1069.6"/><use href="#trB" x="411.2" y="1067.2"/><use href="#trB" x="413.6" y="1064.0"/><use href="#trB" x="416.0" y="1060.8"/><use href="#trB" x="420.0" y="1058.4"/><use href="#trB" x="424.0" y="1056.0"/><use href="#trB" x="427.2" y="1052.8"/><use href="#trB" x="430.4" y="1049.6"/><use href="#trB" x="433.6" y="1046.4"/><use href="#trB" x="436.8" y="1043.2"/><use href="#trB" x="438.4" y="1040.0"/><use href="#trB" x="440.0" y="1036.8"/><use href="#trB" x="443.2" y="1034.4"/><use href="#trB" x="446.4" y="1032.0"/><use href="#trB" x="448.0" y="1028.8"/><use href="#trB" x="449.6" y="1025.6"/><use href="#trB" x="451.2" y="1022.4"/><use href="#trB" x="452.8" y="1019.2"/><use href="#trB" x="454.4" y="1016.8"/><use href="#trB" x="456.0" y="1014.4"/><use href="#trB" x="457.6" y="1011.2"/><use href="#trB" x="459.2" y="1008.0"/><use href="#trB" x="461.6" y="1005.6"/><use href="#trB" x="464.0" y="1003.2"/><use href="#trB" x="472.0" y="1000.0"/><use href="#trB" x="474.4" y="996.8"/><use href="#trB" x="476.8" y="993.6"/><use href="#trB" x="479.2" y="990.4"/><use href="#trB" x="481.6" y="987.2"/><use href="#trB" x="483.2" y="984.8"/><use href="#trB" x="484.8" y="982.4"/><use href="#trB" x="486.4" y="980.0"/><use href="#trB" x="488.0" y="977.6"/><use href="#trB" x="492.0" y="975.2"/><use href="#trB" x="496.0" y="972.8"/><use href="#trB" x="510.4" y="969.6"/><use href="#trB" x="512.8" y="966.4"/><use href="#trB" x="515.2" y="963.2"/><use href="#trB" x="516.8" y="960.8"/><use href="#trB" x="518.4" y="958.4"/><use href="#trB" x="527.2" y="954.4"/><use href="#trB" x="532.0" y="951.2"/><use href="#trB" x="536.8" y="948.0"/><use href="#trB" x="541.6" y="945.6"/><use href="#trB" x="546.4" y="943.2"/><use href="#trB" x="548.8" y="940.0"/><use href="#trB" x="551.2" y="936.8"/><use href="#trB" x="552.8" y="934.1"/><use href="#trB" x="554.4" y="931.5"/><use href="#trB" x="556.0" y="928.8"/><use href="#trB" x="557.6" y="926.1"/><use href="#trB" x="559.2" y="923.5"/><use href="#trB" x="560.8" y="920.8"/><use href="#trB" x="562.4" y="918.5"/><use href="#trB" x="564.0" y="916.3"/><use href="#trB" x="565.6" y="914.0"/><use href="#trB" x="578.4" y="911.6"/><use href="#trB" x="580.0" y="909.3"/><use href="#trB" x="581.6" y="907.1"/><use href="#trB" x="583.2" y="904.8"/><use href="#trB" x="586.4" y="901.6"/><use href="#trB" x="589.6" y="898.4"/><use href="#trB" x="592.8" y="895.2"/><use href="#trB" x="596.0" y="892.0"/><use href="#trB" x="598.7" y="889.3"/><use href="#trB" x="601.3" y="886.7"/><use href="#trB" x="604.0" y="884.0"/><use href="#trB" x="606.4" y="880.8"/><use href="#trB" x="608.8" y="877.6"/><use href="#trB" x="613.6" y="875.2"/><use href="#trB" x="618.4" y="872.8"/><use href="#trB" x="621.1" y="870.1"/><use href="#trB" x="623.7" y="867.5"/><use href="#trB" x="626.4" y="864.8"/><use href="#trB" x="628.4" y="862.4"/><use href="#trB" x="630.4" y="860.0"/><use href="#trB" x="632.4" y="857.6"/><use href="#trB" x="634.4" y="855.2"/><use href="#trB" x="637.6" y="852.8"/><use href="#trB" x="640.8" y="850.4"/><use href="#trB" x="644.2" y="848.2"/><use href="#trB" x="647.6" y="846.0"/><use href="#trB" x="652.0" y="842.4"/><use href="#trB" x="658.8" y="839.0"/><use href="#trB" x="671.6" y="836.8"/><use href="#trB" x="679.6" y="833.6"/><use href="#trB" x="687.6" y="830.4"/><use href="#trB" x="690.8" y="828.0"/><use href="#trB" x="694.0" y="825.6"/><use href="#trB" x="697.2" y="823.2"/><use href="#trB" x="700.4" y="820.8"/><use href="#trB" x="703.6" y="817.6"/><use href="#trB" x="706.8" y="814.4"/><use href="#trB" x="710.0" y="812.0"/><use href="#trB" x="713.2" y="809.6"/><use href="#trB" x="716.4" y="807.2"/><use href="#trB" x="719.6" y="804.8"/><use href="#trB" x="722.0" y="801.6"/><use href="#trB" x="724.4" y="798.4"/><use href="#trB" x="728.4" y="796.0"/><use href="#trB" x="732.4" y="793.6"/><use href="#trB" x="754.8" y="790.4"/><use href="#trB" x="758.8" y="788.0"/><use href="#trB" x="762.8" y="785.6"/><use href="#trB" x="784.0" y="781.2"/><use href="#trB" x="788.8" y="778.0"/><use href="#trB" x="792.0" y="775.6"/><use href="#trB" x="795.2" y="773.2"/><use href="#trB" x="799.2" y="770.0"/><use href="#trB" x="803.2" y="766.8"/><use href="#trB" x="807.2" y="764.4"/><use href="#trB" x="811.2" y="762.0"/><use href="#trB" x="816.0" y="759.6"/><use href="#trB" x="820.8" y="757.2"/><use href="#trB" x="824.0" y="754.8"/><use href="#trB" x="827.2" y="752.4"/><use href="#trB" x="828.8" y="749.2"/><use href="#trB" x="830.4" y="746.0"/><use href="#trB" x="832.0" y="743.6"/><use href="#trB" x="833.6" y="741.2"/><use href="#trB" x="836.8" y="738.8"/><use href="#trB" x="840.0" y="736.4"/><use href="#trB" x="842.4" y="733.2"/><use href="#trB" x="844.8" y="730.0"/><use href="#trB" x="846.8" y="726.8"/><use href="#trB" x="848.8" y="723.6"/><use href="#trB" x="856.0" y="720.4"/><use href="#trB" x="864.0" y="717.2"/><use href="#trB" x="867.2" y="714.8"/><use href="#trB" x="870.4" y="712.4"/><use href="#trB" x="872.0" y="709.2"/><use href="#trB" x="873.6" y="706.0"/><use href="#trB" x="874.0" y="703.6"/><use href="#trB" x="874.4" y="701.2"/><use href="#trB" x="894.2" y="700.2"/><use href="#trB" x="911.5" y="696.0"/><use href="#trB" x="918.9" y="692.8"/><use href="#trB" x="923.1" y="690.7"/><use href="#trB" x="927.3" y="688.6"/><use href="#trB" x="931.5" y="686.5"/><use href="#trB" x="935.7" y="684.4"/><use href="#trB" x="937.2" y="682.3"/><use href="#trB" x="938.8" y="680.2"/><use href="#trB" x="948.3" y="677.1"/><use href="#trB" x="949.8" y="674.5"/><use href="#trB" x="951.4" y="671.8"/><use href="#trB" x="952.5" y="669.7"/><use href="#trB" x="953.5" y="667.6"/><use href="#trB" x="954.0" y="665.5"/><use href="#trB" x="954.6" y="663.4"/><use href="#trB" x="965.1" y="663.4"/><use href="#trB" x="968.8" y="660.2"/><use href="#trB" x="972.4" y="657.1"/><use href="#ciB" x="178.2" y="1181.6"/><use href="#ciB" x="202.0" y="1178.8"/><use href="#ciB" x="219.5" y="1175.3"/><use href="#ciB" x="232.1" y="1170.4"/><use href="#ciB" x="256.6" y="1166.2"/><use href="#ciB" x="257.3" y="1162.7"/><use href="#ciB" x="258.0" y="1159.2"/><use href="#ciB" x="258.7" y="1155.7"/><use href="#ciB" x="259.4" y="1152.2"/><use href="#ciB" x="261.5" y="1148.0"/><use href="#ciB" x="263.6" y="1143.8"/><use href="#ciB" x="267.8" y="1139.6"/><use href="#ciB" x="280.4" y="1137.0"/><use href="#ciB" x="281.8" y="1131.2"/><use href="#ciB" x="283.2" y="1127.7"/><use href="#ciB" x="284.6" y="1124.2"/><use href="#ciB" x="285.6" y="1120.0"/><use href="#ciB" x="290.0" y="1116.4"/><use href="#ciB" x="294.4" y="1112.8"/><use href="#ciB" x="307.2" y="1107.2"/><use href="#ciB" x="312.8" y="1102.4"/><use href="#ciB" x="318.4" y="1097.6"/><use href="#ciB" x="320.0" y="1092.8"/><use href="#ciB" x="321.6" y="1088.0"/><use href="#ciB" x="323.2" y="1084.0"/><use href="#ciB" x="324.8" y="1080.0"/><use href="#ciB" x="337.6" y="1075.2"/><use href="#ciB" x="340.3" y="1071.5"/><use href="#ciB" x="342.9" y="1067.7"/><use href="#ciB" x="345.6" y="1064.0"/><use href="#ciB" x="350.4" y="1060.0"/><use href="#ciB" x="355.2" y="1056.0"/><use href="#ciB" x="359.2" y="1052.8"/><use href="#ciB" x="363.2" y="1049.6"/><use href="#ciB" x="365.6" y="1046.4"/><use href="#ciB" x="368.0" y="1043.2"/><use href="#ciB" x="369.6" y="1039.5"/><use href="#ciB" x="371.2" y="1035.7"/><use href="#ciB" x="372.8" y="1032.0"/><use href="#ciB" x="375.2" y="1027.2"/><use href="#ciB" x="377.6" y="1022.4"/><use href="#ciB" x="380.8" y="1018.4"/><use href="#ciB" x="384.0" y="1014.4"/><use href="#ciB" x="389.6" y="1008.8"/><use href="#ciB" x="396.0" y="1005.6"/><use href="#ciB" x="402.4" y="1002.4"/><use href="#ciB" x="423.2" y="996.8"/><use href="#ciB" x="425.2" y="992.8"/><use href="#ciB" x="427.2" y="988.8"/><use href="#ciB" x="432.0" y="983.2"/><use href="#ciB" x="441.6" y="977.6"/><use href="#ciB" x="442.4" y="974.4"/><use href="#ciB" x="443.2" y="971.2"/><use href="#ciB" x="456.0" y="968.0"/><use href="#ciB" x="460.0" y="964.4"/><use href="#ciB" x="464.0" y="960.8"/><use href="#ciB" x="468.8" y="955.2"/><use href="#ciB" x="469.6" y="951.6"/><use href="#ciB" x="470.4" y="948.0"/><use href="#ciB" x="497.6" y="943.2"/><use href="#ciB" x="500.8" y="939.2"/><use href="#ciB" x="511.2" y="934.4"/><use href="#ciB" x="514.0" y="930.4"/><use href="#ciB" x="516.8" y="926.4"/><use href="#ciB" x="520.8" y="922.0"/><use href="#ciB" x="525.6" y="916.0"/><use href="#ciB" x="528.0" y="912.0"/><use href="#ciB" x="530.4" y="908.0"/><use href="#ciB" x="532.8" y="904.8"/><use href="#ciB" x="535.2" y="901.6"/><use href="#ciB" x="543.2" y="899.2"/><use href="#ciB" x="552.8" y="894.4"/><use href="#ciB" x="559.2" y="889.6"/><use href="#ciB" x="561.6" y="886.0"/><use href="#ciB" x="564.0" y="882.4"/><use href="#ciB" x="566.4" y="878.4"/><use href="#ciB" x="568.8" y="874.4"/><use href="#ciB" x="574.4" y="869.6"/><use href="#ciB" x="585.6" y="865.6"/><use href="#ciB" x="586.4" y="860.8"/><use href="#ciB" x="591.2" y="857.6"/><use href="#ciB" x="606.4" y="853.6"/><use href="#ciB" x="610.4" y="849.6"/><use href="#ciB" x="625.6" y="844.0"/><use href="#ciB" x="631.1" y="839.8"/><use href="#ciB" x="636.6" y="835.6"/><use href="#ciB" x="641.3" y="830.6"/><use href="#ciB" x="646.0" y="825.6"/><use href="#ciB" x="648.4" y="822.4"/><use href="#ciB" x="650.8" y="819.2"/><use href="#ciB" x="654.0" y="816.0"/><use href="#ciB" x="657.2" y="812.8"/><use href="#ciB" x="662.0" y="808.8"/><use href="#ciB" x="666.8" y="804.8"/><use href="#ciB" x="676.4" y="800.0"/><use href="#ciB" x="689.2" y="795.2"/><use href="#ciB" x="691.6" y="791.2"/><use href="#ciB" x="694.0" y="787.2"/><use href="#ciB" x="698.8" y="783.2"/><use href="#ciB" x="713.2" y="779.2"/><use href="#ciB" x="717.2" y="776.0"/><use href="#ciB" x="721.2" y="772.8"/><use href="#ciB" x="726.8" y="769.6"/><use href="#ciB" x="732.4" y="766.4"/><use href="#ciB" x="742.0" y="761.6"/><use href="#ciB" x="746.0" y="757.6"/><use href="#ciB" x="750.0" y="753.6"/><use href="#ciB" x="753.2" y="749.6"/><use href="#ciB" x="756.4" y="745.6"/><use href="#ciB" x="770.2" y="742.6"/><use href="#ciB" x="772.3" y="738.7"/><use href="#ciB" x="774.4" y="734.8"/><use href="#ciB" x="776.0" y="730.8"/><use href="#ciB" x="777.6" y="726.8"/><use href="#ciB" x="779.2" y="723.6"/><use href="#ciB" x="780.8" y="720.4"/><use href="#ciB" x="782.8" y="717.2"/><use href="#ciB" x="784.8" y="714.0"/><use href="#ciB" x="806.4" y="709.2"/><use href="#ciB" x="809.6" y="705.2"/><use href="#ciB" x="819.2" y="701.2"/><use href="#ciB" x="822.4" y="697.2"/><use href="#ciB" x="832.0" y="693.2"/><use href="#ciB" x="843.2" y="689.2"/><use href="#ciB" x="849.6" y="683.6"/><use href="#ciB" x="854.4" y="678.8"/><use href="#ciB" x="859.2" y="674.0"/><use href="#ciB" x="864.0" y="669.2"/><use href="#ciB" x="866.4" y="664.4"/><use href="#ciB" x="883.2" y="660.4"/><use href="#ciB" x="892.6" y="655.0"/><use href="#ciB" x="894.5" y="651.8"/><use href="#ciB" x="896.4" y="648.6"/><use href="#ciB" x="940.9" y="644.5"/><use href="#ciB" x="965.0" y="641.4"/><use href="#ciB" x="975.6" y="638.2"/></g>
<g clip-path="url(#cb)" fill="none" stroke-width="4.4" stroke-linejoin="round" stroke-linecap="round">
<polyline stroke="#000000" points="146.2,1188.3 149.0,1188.1 151.8,1187.9 154.6,1187.6 157.4,1187.3 160.2,1186.9 163.0,1186.5 165.8,1186.1 168.6,1185.6 171.4,1185.1 174.3,1184.5 177.1,1183.9 179.9,1183.2 182.7,1182.5 185.5,1181.8 188.3,1181.0 191.1,1180.2 193.9,1179.4 196.7,1178.5 199.5,1177.6 202.3,1176.7 205.1,1175.7 207.9,1174.7 210.7,1173.6 213.5,1172.5 216.3,1171.4 219.1,1170.3 221.9,1169.1 224.7,1167.8 227.6,1166.6 230.4,1165.3 233.2,1164.0 236.0,1162.7 238.8,1161.3 241.6,1159.9 244.4,1158.5 247.2,1157.0 250.0,1155.5 252.8,1154.0 255.6,1152.5 258.4,1150.9 261.2,1149.3 264.0,1147.7 266.8,1146.1 269.6,1144.4 272.4,1142.7 275.2,1141.0 278.1,1139.2 280.9,1137.5 283.7,1135.7 286.5,1133.9 289.3,1132.1 292.1,1130.2 294.9,1128.3 297.7,1126.4 300.5,1124.5 303.3,1122.6 306.1,1120.6 308.9,1118.7 311.7,1116.7 314.5,1114.7 317.3,1112.6 320.1,1110.6 322.9,1108.5 325.7,1106.4 328.5,1104.3 331.4,1102.2 334.2,1100.1 337.0,1097.9 339.8,1095.8 342.6,1093.6 345.4,1091.4 348.2,1089.2 351.0,1087.0 353.8,1084.8 356.6,1082.5 359.4,1080.3 362.2,1078.0 365.0,1075.8 367.8,1073.5 370.6,1071.2 373.4,1068.9 376.2,1066.5 379.0,1064.2 381.8,1061.9 384.7,1059.5 387.5,1057.2 390.3,1054.8 393.1,1052.5 395.9,1050.1 398.7,1047.7 401.5,1045.3 404.3,1043.0 407.1,1040.6 409.9,1038.2 412.7,1035.8 415.5,1033.3 418.3,1030.9 421.1,1028.5 423.9,1026.1 426.7,1023.7 429.5,1021.3 432.3,1018.8 435.2,1016.4 438.0,1014.0 440.8,1011.6 443.6,1009.1 446.4,1006.7 449.2,1004.3 452.0,1001.9 454.8,999.5 457.6,997.0 460.4,994.6 463.2,992.2 466.0,989.8 468.8,987.4 471.6,985.0 474.4,982.5 477.2,980.1 480.0,977.7 482.8,975.3 485.6,972.9 488.5,970.5 491.3,968.1 494.1,965.7 496.9,963.3 499.7,961.0 502.5,958.6 505.3,956.2 508.1,953.8 510.9,951.4 513.7,949.0 516.5,946.7 519.3,944.3 522.1,941.9 524.9,939.6 527.7,937.2 530.5,934.8 533.3,932.5 536.1,930.1 538.9,927.8 541.8,925.4 544.6,923.1 547.4,920.7 550.2,918.4 553.0,916.1 555.8,913.7 558.6,911.4 561.4,909.1 564.2,906.8 567.0,904.4 569.8,902.1 572.6,899.8 575.4,897.5 578.2,895.2 581.0,892.9 583.8,890.6 586.6,888.3 589.4,886.0 592.3,883.8 595.1,881.5 597.9,879.2 600.7,876.9 603.5,874.7 606.3,872.4 609.1,870.2 611.9,867.9 614.7,865.7 617.5,863.4 620.3,861.2 623.1,859.0 625.9,856.7 628.7,854.5 631.5,852.3 634.3,850.1 637.1,847.9 639.9,845.7 642.7,843.5 645.6,841.3 648.4,839.1 651.2,836.9 654.0,834.8 656.8,832.6 659.6,830.4 662.4,828.3 665.2,826.1 668.0,824.0 670.8,821.8 673.6,819.7 676.4,817.6 679.2,815.5 682.0,813.3 684.8,811.2 687.6,809.1 690.4,807.0 693.2,804.9 696.0,802.9 698.9,800.8 701.7,798.7 704.5,796.6 707.3,794.6 710.1,792.5 712.9,790.5 715.7,788.4 718.5,786.4 721.3,784.4 724.1,782.4 726.9,780.4 729.7,778.4 732.5,776.4 735.3,774.4 738.1,772.4 740.9,770.4 743.7,768.4 746.5,766.5 749.4,764.5 752.2,762.6 755.0,760.6 757.8,758.7 760.6,756.8 763.4,754.9 766.2,753.0 769.0,751.1 771.8,749.2 774.6,747.3 777.4,745.4 780.2,743.5 783.0,741.7 785.8,739.8 788.6,738.0 791.4,736.2 794.2,734.3 797.0,732.5 799.8,730.7 802.7,728.9 805.5,727.1 808.3,725.3 811.1,723.5 813.9,721.8 816.7,720.0 819.5,718.3 822.3,716.5 825.1,714.8 827.9,713.1 830.7,711.4 833.5,709.7 836.3,708.0 839.1,706.3 841.9,704.6 844.7,702.9 847.5,701.3 850.3,699.6 853.1,698.0 856.0,696.4 858.8,694.7 861.6,693.1 864.4,691.5 867.2,689.9 870.0,688.4 872.8,686.8 875.6,685.2 878.4,683.7 881.2,682.1 884.0,680.6 886.8,679.1 889.6,677.6 892.4,676.1 895.2,674.6 898.0,673.1 900.8,671.6 903.6,670.2 906.5,668.7 909.3,667.3 912.1,665.9 914.9,664.5 917.7,663.1 920.5,661.7 923.3,660.3 926.1,658.9 928.9,657.5 931.7,656.2 934.5,654.9 937.3,653.5 940.1,652.2 942.9,650.9 945.7,649.6 948.5,648.3 951.3,647.1 954.1,645.8 956.9,644.6 959.8,643.3 962.6,642.1 965.4,640.9 968.2,639.7 971.0,638.5 973.8,637.3 976.6,636.2 979.4,635.0 982.2,633.9 985.0,632.8"/>
</g>
<g stroke="#000" stroke-width="3.4" fill="none" stroke-linecap="round">
<line x1="277.1" y1="1187.3" x2="277.1" y2="1170.8"/>
<line x1="277.1" y1="634.0" x2="277.1" y2="650.5"/>
<line x1="408.0" y1="1187.3" x2="408.0" y2="1170.8"/>
<line x1="408.0" y1="634.0" x2="408.0" y2="650.5"/>
<line x1="538.9" y1="1187.3" x2="538.9" y2="1170.8"/>
<line x1="538.9" y1="634.0" x2="538.9" y2="650.5"/>
<line x1="669.8" y1="1187.3" x2="669.8" y2="1170.8"/>
<line x1="669.8" y1="634.0" x2="669.8" y2="650.5"/>
<line x1="800.7" y1="1187.3" x2="800.7" y2="1170.8"/>
<line x1="800.7" y1="634.0" x2="800.7" y2="650.5"/>
<line x1="931.6" y1="1187.3" x2="931.6" y2="1170.8"/>
<line x1="931.6" y1="634.0" x2="931.6" y2="650.5"/>
<line x1="178.9" y1="1187.3" x2="178.9" y2="1178.8"/>
<line x1="178.9" y1="634.0" x2="178.9" y2="642.5"/>
<line x1="211.6" y1="1187.3" x2="211.6" y2="1178.8"/>
<line x1="211.6" y1="634.0" x2="211.6" y2="642.5"/>
<line x1="244.4" y1="1187.3" x2="244.4" y2="1178.8"/>
<line x1="244.4" y1="634.0" x2="244.4" y2="642.5"/>
<line x1="309.8" y1="1187.3" x2="309.8" y2="1178.8"/>
<line x1="309.8" y1="634.0" x2="309.8" y2="642.5"/>
<line x1="342.5" y1="1187.3" x2="342.5" y2="1178.8"/>
<line x1="342.5" y1="634.0" x2="342.5" y2="642.5"/>
<line x1="375.3" y1="1187.3" x2="375.3" y2="1178.8"/>
<line x1="375.3" y1="634.0" x2="375.3" y2="642.5"/>
<line x1="440.7" y1="1187.3" x2="440.7" y2="1178.8"/>
<line x1="440.7" y1="634.0" x2="440.7" y2="642.5"/>
<line x1="473.4" y1="1187.3" x2="473.4" y2="1178.8"/>
<line x1="473.4" y1="634.0" x2="473.4" y2="642.5"/>
<line x1="506.2" y1="1187.3" x2="506.2" y2="1178.8"/>
<line x1="506.2" y1="634.0" x2="506.2" y2="642.5"/>
<line x1="571.6" y1="1187.3" x2="571.6" y2="1178.8"/>
<line x1="571.6" y1="634.0" x2="571.6" y2="642.5"/>
<line x1="604.3" y1="1187.3" x2="604.3" y2="1178.8"/>
<line x1="604.3" y1="634.0" x2="604.3" y2="642.5"/>
<line x1="637.1" y1="1187.3" x2="637.1" y2="1178.8"/>
<line x1="637.1" y1="634.0" x2="637.1" y2="642.5"/>
<line x1="702.5" y1="1187.3" x2="702.5" y2="1178.8"/>
<line x1="702.5" y1="634.0" x2="702.5" y2="642.5"/>
<line x1="735.2" y1="1187.3" x2="735.2" y2="1178.8"/>
<line x1="735.2" y1="634.0" x2="735.2" y2="642.5"/>
<line x1="768.0" y1="1187.3" x2="768.0" y2="1178.8"/>
<line x1="768.0" y1="634.0" x2="768.0" y2="642.5"/>
<line x1="833.4" y1="1187.3" x2="833.4" y2="1178.8"/>
<line x1="833.4" y1="634.0" x2="833.4" y2="642.5"/>
<line x1="866.2" y1="1187.3" x2="866.2" y2="1178.8"/>
<line x1="866.2" y1="634.0" x2="866.2" y2="642.5"/>
<line x1="898.9" y1="1187.3" x2="898.9" y2="1178.8"/>
<line x1="898.9" y1="634.0" x2="898.9" y2="642.5"/>
<line x1="964.3" y1="1187.3" x2="964.3" y2="1178.8"/>
<line x1="964.3" y1="634.0" x2="964.3" y2="642.5"/>
<line x1="146.2" y1="1110.4" x2="162.7" y2="1110.4"/>
<line x1="979.6" y1="1110.4" x2="963.1" y2="1110.4"/>
<line x1="146.2" y1="1033.6" x2="162.7" y2="1033.6"/>
<line x1="979.6" y1="1033.6" x2="963.1" y2="1033.6"/>
<line x1="146.2" y1="956.7" x2="162.7" y2="956.7"/>
<line x1="979.6" y1="956.7" x2="963.1" y2="956.7"/>
<line x1="146.2" y1="879.8" x2="162.7" y2="879.8"/>
<line x1="979.6" y1="879.8" x2="963.1" y2="879.8"/>
<line x1="146.2" y1="802.9" x2="162.7" y2="802.9"/>
<line x1="979.6" y1="802.9" x2="963.1" y2="802.9"/>
<line x1="146.2" y1="726.1" x2="162.7" y2="726.1"/>
<line x1="979.6" y1="726.1" x2="963.1" y2="726.1"/>
<line x1="146.2" y1="649.2" x2="162.7" y2="649.2"/>
<line x1="979.6" y1="649.2" x2="963.1" y2="649.2"/>
<line x1="146.2" y1="1171.9" x2="154.7" y2="1171.9"/>
<line x1="979.6" y1="1171.9" x2="971.1" y2="1171.9"/>
<line x1="146.2" y1="1156.6" x2="154.7" y2="1156.6"/>
<line x1="979.6" y1="1156.6" x2="971.1" y2="1156.6"/>
<line x1="146.2" y1="1141.2" x2="154.7" y2="1141.2"/>
<line x1="979.6" y1="1141.2" x2="971.1" y2="1141.2"/>
<line x1="146.2" y1="1125.8" x2="154.7" y2="1125.8"/>
<line x1="979.6" y1="1125.8" x2="971.1" y2="1125.8"/>
<line x1="146.2" y1="1095.1" x2="154.7" y2="1095.1"/>
<line x1="979.6" y1="1095.1" x2="971.1" y2="1095.1"/>
<line x1="146.2" y1="1079.7" x2="154.7" y2="1079.7"/>
<line x1="979.6" y1="1079.7" x2="971.1" y2="1079.7"/>
<line x1="146.2" y1="1064.3" x2="154.7" y2="1064.3"/>
<line x1="979.6" y1="1064.3" x2="971.1" y2="1064.3"/>
<line x1="146.2" y1="1048.9" x2="154.7" y2="1048.9"/>
<line x1="979.6" y1="1048.9" x2="971.1" y2="1048.9"/>
<line x1="146.2" y1="1018.2" x2="154.7" y2="1018.2"/>
<line x1="979.6" y1="1018.2" x2="971.1" y2="1018.2"/>
<line x1="146.2" y1="1002.8" x2="154.7" y2="1002.8"/>
<line x1="979.6" y1="1002.8" x2="971.1" y2="1002.8"/>
<line x1="146.2" y1="987.4" x2="154.7" y2="987.4"/>
<line x1="979.6" y1="987.4" x2="971.1" y2="987.4"/>
<line x1="146.2" y1="972.1" x2="154.7" y2="972.1"/>
<line x1="979.6" y1="972.1" x2="971.1" y2="972.1"/>
<line x1="146.2" y1="941.3" x2="154.7" y2="941.3"/>
<line x1="979.6" y1="941.3" x2="971.1" y2="941.3"/>
<line x1="146.2" y1="925.9" x2="154.7" y2="925.9"/>
<line x1="979.6" y1="925.9" x2="971.1" y2="925.9"/>
<line x1="146.2" y1="910.6" x2="154.7" y2="910.6"/>
<line x1="979.6" y1="910.6" x2="971.1" y2="910.6"/>
<line x1="146.2" y1="895.2" x2="154.7" y2="895.2"/>
<line x1="979.6" y1="895.2" x2="971.1" y2="895.2"/>
<line x1="146.2" y1="864.4" x2="154.7" y2="864.4"/>
<line x1="979.6" y1="864.4" x2="971.1" y2="864.4"/>
<line x1="146.2" y1="849.1" x2="154.7" y2="849.1"/>
<line x1="979.6" y1="849.1" x2="971.1" y2="849.1"/>
<line x1="146.2" y1="833.7" x2="154.7" y2="833.7"/>
<line x1="979.6" y1="833.7" x2="971.1" y2="833.7"/>
<line x1="146.2" y1="818.3" x2="154.7" y2="818.3"/>
<line x1="979.6" y1="818.3" x2="971.1" y2="818.3"/>
<line x1="146.2" y1="787.6" x2="154.7" y2="787.6"/>
<line x1="979.6" y1="787.6" x2="971.1" y2="787.6"/>
<line x1="146.2" y1="772.2" x2="154.7" y2="772.2"/>
<line x1="979.6" y1="772.2" x2="971.1" y2="772.2"/>
<line x1="146.2" y1="756.8" x2="154.7" y2="756.8"/>
<line x1="979.6" y1="756.8" x2="971.1" y2="756.8"/>
<line x1="146.2" y1="741.5" x2="154.7" y2="741.5"/>
<line x1="979.6" y1="741.5" x2="971.1" y2="741.5"/>
<line x1="146.2" y1="710.7" x2="154.7" y2="710.7"/>
<line x1="979.6" y1="710.7" x2="971.1" y2="710.7"/>
<line x1="146.2" y1="695.3" x2="154.7" y2="695.3"/>
<line x1="979.6" y1="695.3" x2="971.1" y2="695.3"/>
<line x1="146.2" y1="680.0" x2="154.7" y2="680.0"/>
<line x1="979.6" y1="680.0" x2="971.1" y2="680.0"/>
<line x1="146.2" y1="664.6" x2="154.7" y2="664.6"/>
<line x1="979.6" y1="664.6" x2="971.1" y2="664.6"/>
</g>
<g font-size="36" fill="#000">
<text transform="translate(129.0,564.8) scale(0.975,1)" text-anchor="end">0.70</text>
<text transform="translate(129.0,475.5) scale(0.975,1)" text-anchor="end">0.75</text>
<text transform="translate(129.0,386.3) scale(0.975,1)" text-anchor="end">0.80</text>
<text transform="translate(129.0,297.0) scale(0.975,1)" text-anchor="end">0.85</text>
<text transform="translate(129.0,207.8) scale(0.975,1)" text-anchor="end">0.90</text>
<text transform="translate(129.0,118.5) scale(0.975,1)" text-anchor="end">0.95</text>
<text transform="translate(129.0,29.3) scale(0.975,1)" text-anchor="end">1.00</text>
<text x="129" y="1197.8" text-anchor="end">0.0</text>
<text x="129" y="1120.9" text-anchor="end">0.1</text>
<text x="129" y="1044.1" text-anchor="end">0.2</text>
<text x="129" y="967.2" text-anchor="end">0.3</text>
<text x="129" y="890.3" text-anchor="end">0.4</text>
<text x="129" y="813.4" text-anchor="end">0.5</text>
<text x="129" y="736.6" text-anchor="end">0.6</text>
<text x="129" y="659.7" text-anchor="end">0.7</text>
<text x="255.7" y="598.6" text-anchor="middle" font-size="36.6">1.5</text>
<text x="497.2" y="598.6" text-anchor="middle" font-size="36.6">2.0</text>
<text x="738.7" y="598.6" text-anchor="middle" font-size="36.6">2.5</text>
<text x="980.2" y="598.6" text-anchor="middle" font-size="36.6">3.0</text>
<text x="146.5" y="1231.4" text-anchor="middle" font-size="36.6">0.0</text>
<text x="277.4" y="1231.4" text-anchor="middle" font-size="36.6">0.2</text>
<text x="408.3" y="1231.4" text-anchor="middle" font-size="36.6">0.4</text>
<text x="539.2" y="1231.4" text-anchor="middle" font-size="36.6">0.6</text>
<text x="670.1" y="1231.4" text-anchor="middle" font-size="36.6">0.8</text>
<text x="801.0" y="1231.4" text-anchor="middle" font-size="36.6">1.0</text>
<text x="931.9" y="1231.4" text-anchor="middle" font-size="36.6">1.2</text>
</g>
<text transform="translate(35,322) rotate(-90)" font-size="52"><tspan font-style="italic">I</tspan> (<tspan font-style="italic">s</tspan>)</text>
<text transform="translate(44.5,955) rotate(-90)" font-size="52"><tspan font-style="italic">I</tspan> (<tspan font-style="italic">s</tspan>)</text>
<text x="562.5" y="1308" font-size="52" font-style="italic" text-anchor="middle">s</text>
<text x="237.3" y="139" font-size="59.3" fill="#ff0000">GOE</text>
<line x1="373.2" y1="121.0" x2="419.1" y2="121.0" stroke="#ff0000" stroke-width="2.7" stroke-linecap="round"/>
<polygon fill="#ff0000" stroke="#ff0000" stroke-width="1" stroke-linejoin="round" points="440.1,121.0 419.1,115.7 419.1,126.3"/>
<text x="751.2" y="227.2" font-size="57.6" fill="#0000ff">Poisson</text>
<line x1="738.6" y1="203.8" x2="662.8" y2="203.8" stroke="#0000ff" stroke-width="2.7" stroke-linecap="round"/>
<polygon fill="#0000ff" stroke="#0000ff" stroke-width="1" stroke-linejoin="round" points="641.3,203.8 662.8,198.5 662.8,209.1"/>
<text x="241.7" y="866.9" font-size="57.6" fill="#0000ff">Poisson</text>
<line x1="439.8" y1="852.7" x2="485.0" y2="852.7" stroke="#0000ff" stroke-width="2.7" stroke-linecap="round"/>
<polygon fill="#0000ff" stroke="#0000ff" stroke-width="1" stroke-linejoin="round" points="506.5,852.7 485.0,847.4 485.0,858.0"/>
<text x="677.2" y="970.5" font-size="59.3" fill="#ff0000">GOE</text>
<line x1="660.8" y1="952.7" x2="621.0" y2="952.7" stroke="#ff0000" stroke-width="2.7" stroke-linecap="round"/>
<polygon fill="#ff0000" stroke="#ff0000" stroke-width="1" stroke-linejoin="round" points="600.0,952.7 621.0,947.4 621.0,958.0"/>
<polygon fill="#ff0000" points="545.3,325.0 548.8,335.7 560.0,335.7 550.9,342.3 554.4,353.0 545.3,346.4 536.2,353.0 539.7,342.3 530.6,335.7 541.8,335.7"/>
<polygon fill="none" stroke="#008000" stroke-width="4.8" stroke-linejoin="round" points="531.4,420.2 545.2,396.4 558.6,420.2"/>
<circle cx="545.5" cy="483.6" r="13.5" fill="#0000ff"/>
<g font-size="42.4">
<text x="582.5" y="354">300 K,</text><text x="719.8" y="354">4.1 mm</text>
<text x="605.1" y="426">77 K,</text><text x="721.6" y="426">4.1 mm</text>
<text x="605.1" y="493.6">77 K,</text><text x="721.6" y="493.6">1.0 mm</text>
</g>
</svg></body></html>
